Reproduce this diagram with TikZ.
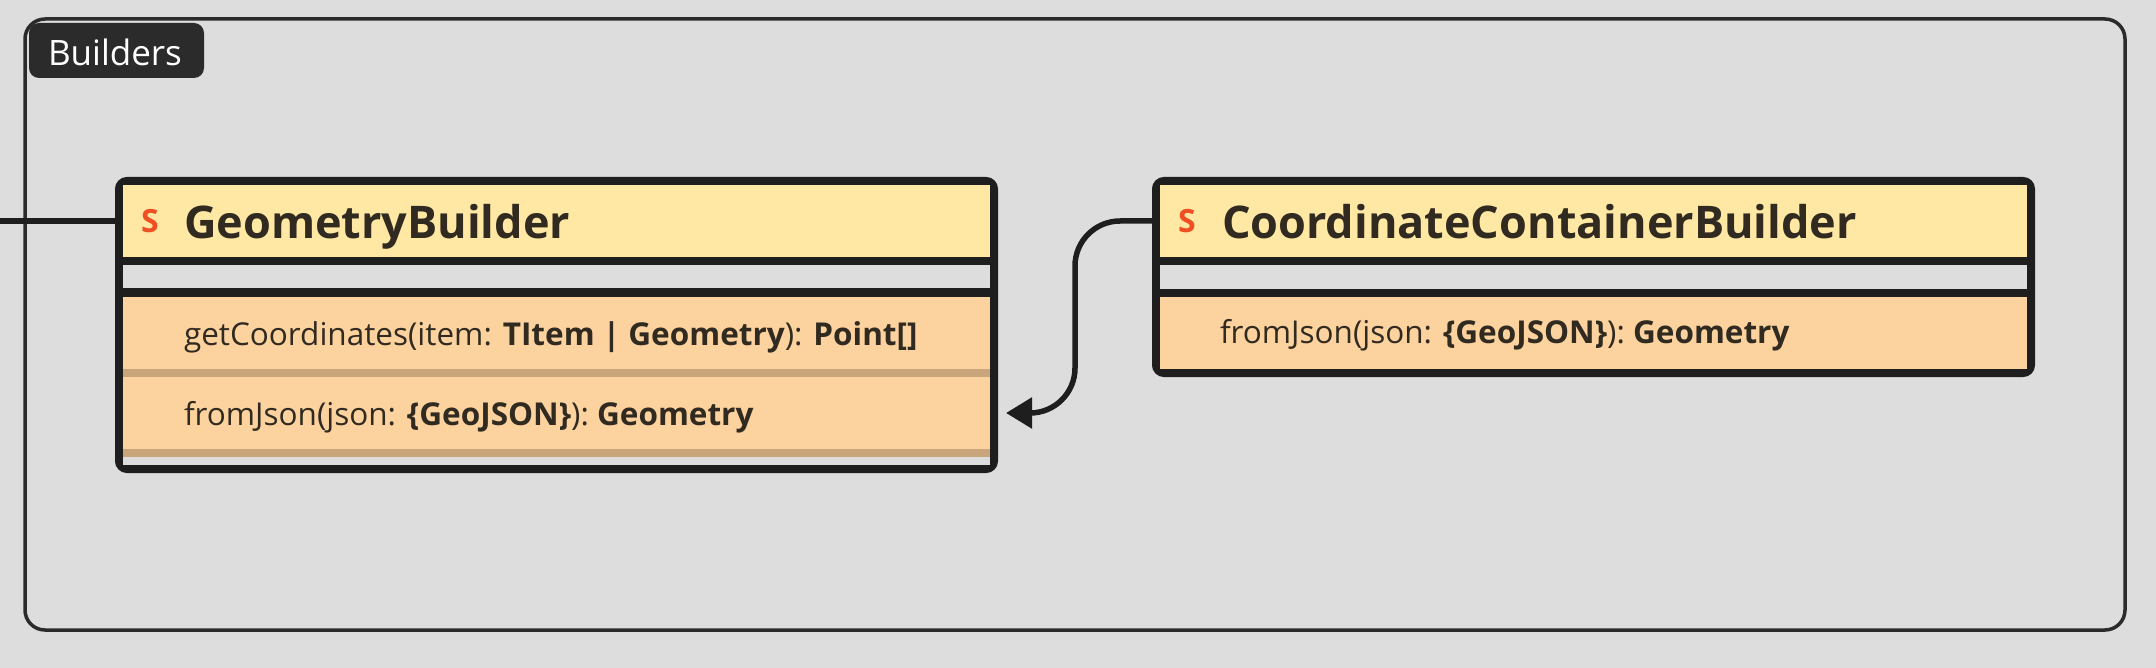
\documentclass[tikz,border=0pt]{standalone}
\usepackage{fontspec}
\setmainfont{Open Sans}
\usetikzlibrary{arrows.meta,calc}
\definecolor{bg}{HTML}{DDDDDD}
\definecolor{framec}{HTML}{2B2B2B}
\definecolor{boxline}{HTML}{1E1E1E}
\definecolor{headY}{HTML}{FFE8A3}
\definecolor{peach}{HTML}{FCD29E}
\definecolor{tanc}{HTML}{C9A57C}
\definecolor{ink}{HTML}{302A20}
\definecolor{sred}{HTML}{F04E23}
\begin{document}
\begin{tikzpicture}[x=1pt,y=-1pt,
  sect/.style={anchor=north west, inner sep=0pt, outer sep=0pt, minimum width=867pt},
  classbox/.style={anchor=north west, draw=boxline, fill=boxline, line width=8pt, rounded corners=8pt, inner sep=0pt},
  txt/.style={anchor=base west, inner sep=0pt, outer sep=0pt, text=ink},
  titlef/.style={txt, font=\fontsize{45}{54}\selectfont\bfseries},
  sf/.style={txt, text=sred, font=\fontsize{32}{36}\selectfont\bfseries},
  memf/.style={txt, font=\fontsize{31.5}{36}\selectfont},
  conn/.style={draw=boxline, line width=5.5pt, line cap=round}
]
\fill[bg] (0,0) rectangle (2156,668);
\useasboundingbox (0,0) rectangle (2156,668);

% group frame
\node[draw=framec, line width=3.5pt, rounded corners=20pt, minimum width=2100pt, minimum height=611pt, anchor=north west, inner sep=0pt, outer sep=0pt] (frame) at (25,19) {};
\node[fill=framec, rounded corners=10pt, minimum width=175pt, minimum height=55pt, anchor=north west, inner sep=0pt, outer sep=0pt] (lblbox) at (29,23) {};
\node[txt, text=white, font=\fontsize{35}{40}\selectfont] (lbl) at (48,66) {Builders};

% GeometryBuilder
\node[classbox, minimum width=875pt, minimum height=288pt] (gb) at (115,177) {};
\node[sect, fill=headY, minimum height=72pt] (gbhead) at (123,185) {};
\node[sect, fill=bg, minimum height=23pt] (gbgap) at (123,265) {};
\node[sect, fill=peach, minimum height=72pt] (gbrow1) at (123,297) {};
\node[sect, fill=tanc, minimum height=8pt] (gbsep1) at (123,369) {};
\node[sect, fill=peach, minimum height=72pt] (gbrow2) at (123,377) {};
\node[sect, fill=tanc, minimum height=8pt] (gbsep2) at (123,449) {};
\node[sect, fill=bg, minimum height=8pt] (gbfoot) at (123,457) {};
\node[sf] (gbS) at (141,233) {S};
\node[titlef] (gbtitle) at (184,239) {GeometryBuilder};
\node[memf] (gbm1) at (184,345) {getCoordinates(item: \textbf{TItem | Geometry}): \textbf{Point[]}};
\node[memf] (gbm2) at (184,425) {fromJson(json: \textbf{\{GeoJSON\}}): \textbf{Geometry}};

% CoordinateContainerBuilder
\node[classbox, minimum width=875pt, minimum height=192pt] (ccb) at (1152,177) {};
\node[sect, fill=headY, minimum height=72pt] (ccbhead) at (1160,185) {};
\node[sect, fill=bg, minimum height=24pt] (ccbgap) at (1160,265) {};
\node[sect, fill=peach, minimum height=72pt] (ccbrow1) at (1160,297) {};
\node[sf] (ccbS) at (1178,233) {S};
\node[titlef] (ccbtitle) at (1222,239) {CoordinateContainerBuilder};
\node[memf] (ccbm1) at (1220,344) {fromJson(json: \textbf{\{GeoJSON\}}): \textbf{Geometry}};

% connectors
\coordinate (lfree) at (0,221);
\draw[conn, line cap=butt] (lfree) -- (gbhead.west -| gb.west);
\draw[conn, rounded corners=45pt, -{Triangle[length=26pt,width=30pt]}]
  (ccbhead.west -| ccb.west) -- ++(-77,0) |- ($(gbrow2.east -| gb.east)+(8,0)$);
\end{tikzpicture}
\end{document}
